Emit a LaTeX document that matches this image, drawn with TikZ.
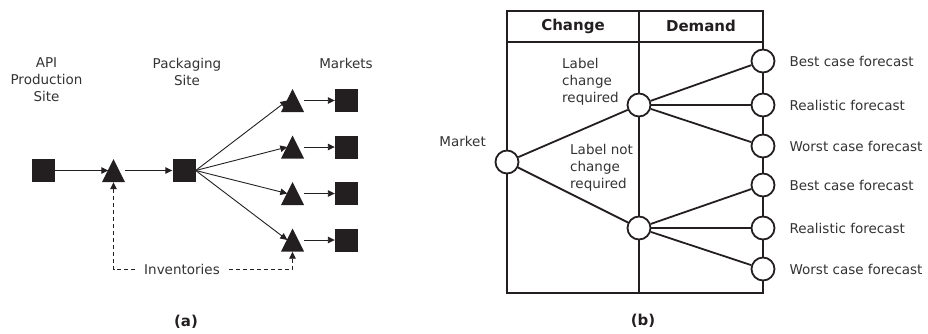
\documentclass[tikz,border=0pt]{standalone}
\usepackage{fontspec}
\setmainfont{DejaVu Sans}
\usetikzlibrary{arrows.meta}
\definecolor{ink}{HTML}{231F20}
\definecolor{txt}{HTML}{333333}
\begin{document}
\begin{tikzpicture}[x=1pt,y=-1pt,
  sq/.style={rectangle, fill=ink, minimum size=23pt, inner sep=0pt},
  tri/.style={rectangle, minimum size=23pt, inner sep=0pt,
    path picture={\fill[ink] (path picture bounding box.south west) -- (path picture bounding box.south east)
      -- (path picture bounding box.north) -- cycle;}},
  arr/.style={-{Triangle[length=7pt,width=6.5pt]}, line width=0.9pt, draw=ink},
  dsh/.style={dash pattern=on 4pt off 3pt},
  lbl/.style={font=\fontsize{13.5}{17}\selectfont, text=txt, align=center, inner sep=0pt},
  hdr/.style={font=\fontsize{15}{17}\selectfont\bfseries, text=ink, inner sep=0pt},
  circ/.style={circle, draw=ink, line width=1.8pt, fill=white, minimum size=23pt, inner sep=0pt},
  br/.style={line width=1.8pt, draw=ink},
]
\useasboundingbox (0,0) rectangle (928,333);

% ---------- panel (a) ----------
\node[sq] (api) at (43.5,170.5) {};
\node[tri] (t0) at (113.5,170.5) {};
\node[sq] (pk) at (184,170.5) {};
\node[tri] (t1) at (292.5,100.5) {};
\node[tri] (t2) at (292.5,147) {};
\node[tri] (t3) at (292.5,193.5) {};
\node[tri] (t4) at (292.5,240) {};
\node[sq] (m1) at (346.5,100.5) {};
\node[sq] (m2) at (346.5,147) {};
\node[sq] (m3) at (346.5,193.5) {};
\node[sq] (m4) at (346.5,240) {};

\node[lbl] (lapi) at (46.5,80) {API\\Production\\Site};
\node[lbl] (lpk) at (187,71.5) {Packaging\\Site};
\node[lbl] (lmk) at (346,63) {Markets};

\draw[arr] (api.east) -- ([xshift=6.5pt]t0.west);
\draw[arr] (t0) -- (pk.west);
\foreach \i in {1,...,4}{
  \draw[arr] (pk.east) -- ([xshift=6.5pt]t\i.west);
  \draw[arr] (t\i) -- (m\i.west);
}

\node[lbl, inner xsep=9pt, inner ysep=2pt] (inv) at (182,269) {Inventories};
\draw[arr, dsh] (inv.west) -| (t0.south);
\draw[arr, dsh] (inv.east) -| (t4.south);

\node[hdr] (capa) at (186,322) {(a)};

% ---------- panel (b) ----------
\coordinate (tl) at (507,11);
\coordinate (brc) at (763,293);
\draw[br] (tl) rectangle (brc);
\draw[br] (507,42) -- (763,42);
\draw[br] (639,11) -- (639,293);

\node[hdr] (hc) at (573,26) {Change};
\node[hdr] (hd) at (701,26) {Demand};

\node[circ] (mk) at (507,162) {};
\node[circ] (u) at (639,105) {};
\node[circ] (l) at (639,228) {};
\node[circ] (r1) at (763,61) {};
\node[circ] (r2) at (763,105) {};
\node[circ] (r3) at (763,146) {};
\node[circ] (r4) at (763,185) {};
\node[circ] (r5) at (763,228) {};
\node[circ] (r6) at (763,269) {};

\draw[br] (mk) -- (u);
\draw[br] (mk) -- (l);
\draw[br] (u) -- (r1);
\draw[br] (u) -- (r2);
\draw[br] (u) -- (r3);
\draw[br] (l) -- (r4);
\draw[br] (l) -- (r5);
\draw[br] (l) -- (r6);

\node[lbl, anchor=east] (lm) at (486,141) {Market};
\node[lbl, align=left, anchor=west] (lc) at (562,82) {Label\\change\\required};
\node[lbl, align=left, anchor=west] (lnc) at (570,167.5) {Label not\\change\\required};

\node[lbl, anchor=west] (f1) at ([xshift=14pt]r1.east) {Best case forecast};
\node[lbl, anchor=west] (f2) at ([xshift=14pt]r2.east) {Realistic forecast};
\node[lbl, anchor=west] (f3) at ([xshift=14pt]r3.east) {Worst case forecast};
\node[lbl, anchor=west] (f4) at ([xshift=14pt]r4.east) {Best case forecast};
\node[lbl, anchor=west] (f5) at ([xshift=14pt]r5.east) {Realistic forecast};
\node[lbl, anchor=west] (f6) at ([xshift=14pt]r6.east) {Worst case forecast};

\node[hdr] (capb) at (643,321) {(b)};
\end{tikzpicture}
\end{document}
